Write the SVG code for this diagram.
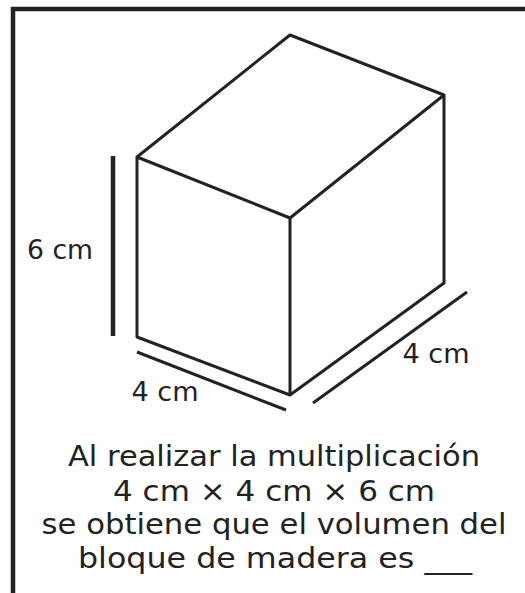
<svg xmlns="http://www.w3.org/2000/svg" width="525" height="593" viewBox="0 0 525 593">
<style>
.l{fill:none;stroke:#222;stroke-width:3;stroke-linejoin:round;stroke-linecap:round}
.d{fill:none;stroke:#222;stroke-width:3}
text{font-family:"DejaVu Sans",Verdana,sans-serif;fill:#222;text-anchor:middle}
.s{font-size:26px}
.m{font-size:29px}
</style>
<rect width="525" height="593" fill="#fff"/>
<g id="frame"><path d="M13 593V9H525" fill="none" stroke="#222" stroke-width="4.5"/></g>
<g id="block">
<path class="l" d="M137 157L290 35L444 95V283L290 395L137 337ZM137 157L290 218L444 95M290 218V395"/>
</g>
<g id="connectors">
<path d="M113 156V336" fill="none" stroke="#222" stroke-width="4.5"/>
<path class="d" d="M137 352L286 410"/>
<path class="d" d="M313 403L467 292"/>
</g>
<g id="labels">
<text class="s" x="60" y="259" textLength="66" lengthAdjust="spacingAndGlyphs">6 cm</text>
<text class="s" x="165" y="400.500" textLength="67" lengthAdjust="spacingAndGlyphs">4 cm</text>
<text class="s" x="436" y="363" textLength="67" lengthAdjust="spacingAndGlyphs">4 cm</text>
<text class="m" x="274" y="466" textLength="412" lengthAdjust="spacingAndGlyphs">Al realizar la multiplicación</text>
<text class="m" x="274" y="501" textLength="322" lengthAdjust="spacingAndGlyphs">4 cm × 4 cm × 6 cm</text>
<text class="m" x="274" y="534" textLength="465" lengthAdjust="spacingAndGlyphs">se obtiene que el volumen del</text>
<text class="m" x="275" y="568" textLength="394" lengthAdjust="spacingAndGlyphs">bloque de madera es ___</text>
</g>
</svg>
